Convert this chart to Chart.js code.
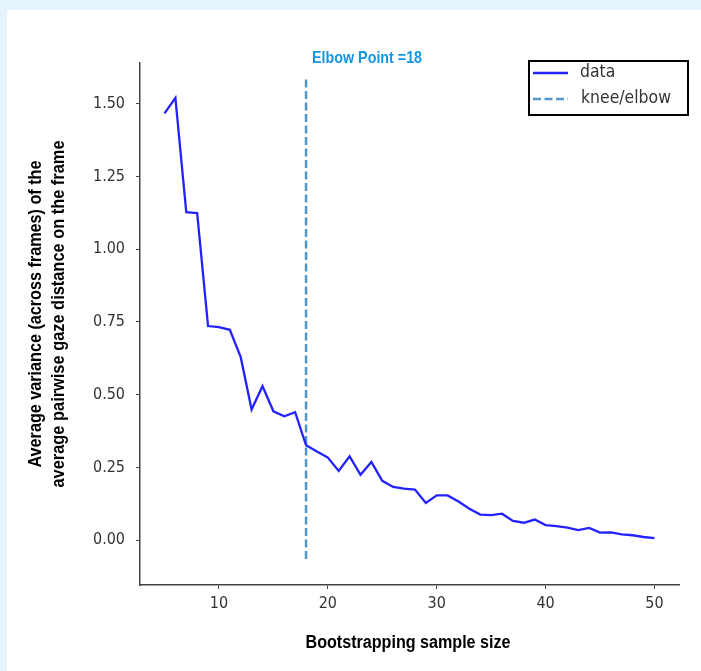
<!DOCTYPE html>
<html>
<head>
<meta charset="utf-8">
<script src="https://cdn.jsdelivr.net/npm/chart.js@4/dist/chart.umd.min.js"></script>
<style>
    html, body { margin: 0; padding: 0; background: #e5f4fc; }
    #fondo { position: absolute; left: 7px; top: 10px; width: 694px; height: 661px; background: #fff; }
    canvas { position: absolute; left: 0; top: 0; }
</style>
</head>
<body>
<div id="fondo"></div>
<canvas id="graficoCodo" width="701" height="671"></canvas>
<script>
// tamaño de muestra bootstrap y varianza media por tamaño
const tamanos = [5, 6, 7, 8, 9, 10, 11, 12, 13, 14, 15, 16, 17, 18, 19, 20, 21, 22, 23, 24, 25, 26, 27,
    28, 29, 30, 31, 32, 33, 34, 35, 36, 37, 38, 39, 40, 41, 42, 43, 44, 45, 46, 47, 48, 49, 50];
const varianzas = [1.467, 1.52, 1.127, 1.124, 0.736, 0.732, 0.723, 0.629, 0.449, 0.530, 0.443, 0.426,
    0.440, 0.326, 0.305, 0.284, 0.238, 0.288, 0.225, 0.269, 0.204, 0.183, 0.177, 0.174, 0.128, 0.154,
    0.154, 0.133, 0.108, 0.088, 0.086, 0.091, 0.066, 0.060, 0.071, 0.052, 0.048, 0.043, 0.035, 0.042,
    0.026, 0.027, 0.020, 0.017, 0.011, 0.007];

// punto de codo y extremos de la linea vertical
const puntoCodo = 18;
const codoRango = [-0.065, 1.59];

const ticksX = [10, 20, 30, 40, 50];
const ticksY = [0, 0.25, 0.5, 0.75, 1.0, 1.25, 1.5];

const AZUL = '#2222ff';
const AZUL_CODO = '#5096cc';
const GRIS = '#333';

// texto comprimido en horizontal para que ocupe un ancho dado
function escalaPara(ctx, texto, ancho) {
    return ancho / ctx.measureText(texto).width;
}

function textoEscalado(ctx, texto, x, y, sx, align) {
    ctx.save();
    ctx.translate(x, y);
    ctx.scale(sx, 1);
    ctx.textAlign = align;
    ctx.fillText(texto, 0, 0);
    ctx.restore();
}

// etiquetas de ticks, anotacion, leyenda y titulos de ejes
const textos = {
    id: 'textos',
    afterDraw(chart) {
        const ctx = chart.ctx;
        const xs = chart.scales.x;
        const ys = chart.scales.y;
        ctx.save();
        ctx.textBaseline = 'middle';

        // etiquetas de los ejes
        ctx.fillStyle = GRIS;
        ctx.font = '16px "DejaVu Sans"';
        const sxTick = escalaPara(ctx, '1.50', 32);
        ticksY.forEach(v => {
            textoEscalado(ctx, v.toFixed(2), 125, ys.getPixelForValue(v), sxTick, 'right');
        });
        ticksX.forEach(v => {
            textoEscalado(ctx, String(v), xs.getPixelForValue(v), 604, sxTick, 'center');
        });

        // anotacion del codo
        ctx.fillStyle = '#1396e2';
        ctx.font = 'bold 17px "Liberation Sans"';
        const txtCodo = 'Elbow Point =' + puntoCodo;
        textoEscalado(ctx, txtCodo, xs.getPixelForValue(puntoCodo) + 6, 58,
            escalaPara(ctx, txtCodo, 110), 'left');

        // leyenda
        ctx.strokeStyle = '#000';
        ctx.lineWidth = 2;
        ctx.strokeRect(529, 61, 159, 54);
        ctx.lineWidth = 2.5;
        ctx.strokeStyle = AZUL;
        ctx.beginPath(); ctx.moveTo(533, 73); ctx.lineTo(568, 73); ctx.stroke();
        ctx.strokeStyle = AZUL_CODO;
        ctx.setLineDash([8, 3.5]);
        ctx.beginPath(); ctx.moveTo(533, 99); ctx.lineTo(568, 99); ctx.stroke();
        ctx.setLineDash([]);
        ctx.fillStyle = GRIS;
        ctx.font = '17px "DejaVu Sans"';
        const sxLeyenda = escalaPara(ctx, 'knee/elbow', 90);
        textoEscalado(ctx, 'data', 580, 73, sxLeyenda, 'left');
        textoEscalado(ctx, 'knee/elbow', 581, 99, sxLeyenda, 'left');

        // titulo eje x
        ctx.fillStyle = '#000';
        ctx.font = 'bold 18px "Liberation Sans"';
        const tituloX = 'Bootstrapping sample size';
        textoEscalado(ctx, tituloX, 408, 643, escalaPara(ctx, tituloX, 205), 'center');

        // titulo eje y (dos lineas)
        const lineaY1 = 'Average variance (across frames) of the';
        const lineaY2 = 'average pairwise gaze distance on the frame';
        ctx.save();
        ctx.translate(36, 314);
        ctx.rotate(-Math.PI / 2);
        textoEscalado(ctx, lineaY1, 0, 0, escalaPara(ctx, lineaY1, 307), 'center');
        textoEscalado(ctx, lineaY2, 0, 23, escalaPara(ctx, lineaY2, 347), 'center');
        ctx.restore();

        ctx.restore();
    }
};

const lienzo = document.getElementById('graficoCodo');

new Chart(lienzo, {
    type: 'line',
    data: {
        datasets: [{
            label: 'data',
            data: tamanos.map((t, i) => ({ x: t, y: varianzas[i] })),
            borderColor: AZUL,
            borderWidth: 2.3,
            pointRadius: 0,
            tension: 0
        }, {
            label: 'knee/elbow',
            data: [{ x: puntoCodo, y: codoRango[0] }, { x: puntoCodo, y: codoRango[1] }],
            borderColor: AZUL_CODO,
            borderWidth: 2.5,
            borderDash: [8, 3.5],
            pointRadius: 0
        }]
    },
    options: {
        responsive: false,
        animation: false,
        layout: { padding: { top: 63, right: 22, left: 0, bottom: 0 } },
        plugins: {
            legend: { display: false },
            tooltip: { enabled: false }
        },
        scales: {
            x: {
                type: 'linear',
                min: 2.75,
                max: 52.25,
                afterBuildTicks: s => { s.ticks = ticksX.map(v => ({ value: v })); },
                afterFit: s => { s.height = 86; },
                grid: { drawOnChartArea: false, tickLength: 4, color: '#444' },
                border: { color: '#444', width: 1.5 },
                ticks: { display: false }
            },
            y: {
                type: 'linear',
                min: -0.154,
                max: 1.64,
                afterBuildTicks: s => { s.ticks = ticksY.map(v => ({ value: v })); },
                afterFit: s => { s.width = 140; },
                grid: { drawOnChartArea: false, tickLength: 4, color: '#444' },
                border: { color: '#444', width: 1.5 },
                ticks: { display: false }
            }
        }
    },
    plugins: [textos]
});
</script>
</body>
</html>
